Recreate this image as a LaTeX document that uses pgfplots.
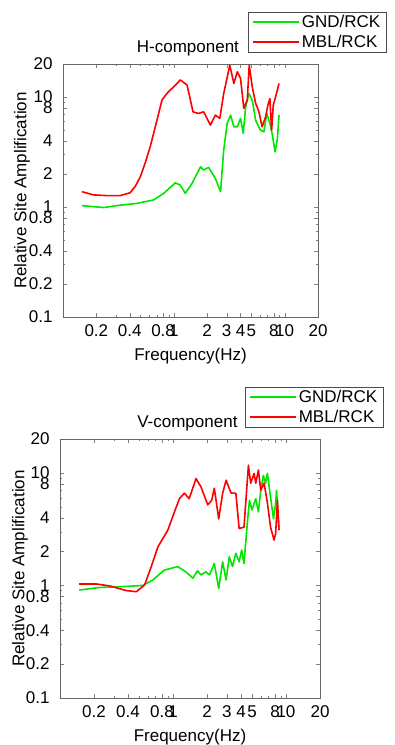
\documentclass[border=0pt]{standalone}
\usepackage{fontspec}
\setmainfont{Liberation Sans}
\usepackage{pgfplots}
\pgfplotsset{compat=1.18}
\definecolor{cg}{RGB}{0,230,0}
\definecolor{cr}{RGB}{255,0,0}
\newcommand\ff{\fontsize{17}{20}\selectfont}
\begin{document}
\begin{tikzpicture}
\useasboundingbox (0pt,0pt) rectangle (395pt,745pt);
% ---------- top panel ----------
\begin{axis}[
  scale only axis,
  xmode=log, ymode=log,
  xmin=0.1, xmax=20, ymin=0.1, ymax=20,
  axis line style={black!60, line width=0.7pt},
  tick pos=both, tick align=inside,
  major tick length=4pt, minor tick length=2pt,
  xtick={0.2,0.4,0.8,1,2,3,4,5,8,10,20},
  xticklabels={0.2,0.4,0.8,1,2,3,4,5,8,10,20},
  minor xtick={0.3,0.5,0.6,0.7,0.9,6,7,9},
  ytick={0.1,0.2,0.4,0.8,1,2,4,8,10,20},
  yticklabels={0.1,0.2,0.4,0.8,1,2,4,8,10,20},
  minor ytick={0.3,0.5,0.6,0.7,0.9,3,5,6,7,9},
  tick label style={font=\ff},
  yticklabel style={xshift=-7pt},
  xticklabel style={yshift=-4pt},
  label style={font=\ff},
  ylabel={Relative Site Amplification},
  xlabel={Frequency(Hz)},
  legend cell align=left,
  legend image code/.code={\draw[#1] (0pt,0pt) -- (46pt,0pt);},
  at={(63pt,428pt)}, anchor=south west,
  width=255pt, height=253pt,
  ylabel style={at={(axis description cs:-0.161,0.5)}, anchor=center},
  xlabel style={at={(axis description cs:0.5,-0.154)}, anchor=center},
  legend style={at={(rel axis cs:0.7255,1.2055)}, anchor=north west,
    draw=black!70, font=\ff, inner xsep=4pt, inner ysep=1pt,
    row sep=2pt, fill=white},
  clip=false]
\addplot[cg, line width=1.6pt, line join=round] coordinates {(0.148,1.03)(0.232,0.99)(0.328,1.04)(0.464,1.08)(0.656,1.16)(0.81,1.33)(1.03,1.66)(1.145,1.58)(1.27,1.33)(1.46,1.64)(1.74,2.32)(1.86,2.17)(2.06,2.3)(2.37,1.82)(2.64,1.38)(2.82,3.3)(3.03,5.77)(3.25,6.86)(3.48,5.37)(3.74,5.37)(4.0,6.4)(4.23,4.68)(4.45,8.16)(4.76,10.8)(5.1,9.4)(5.47,6.17)(6.05,5.0)(6.5,4.84)(6.9,7.1)(7.36,5.77)(7.7,4.68)(8.2,3.18)(8.6,4.2)(8.9,6.86)};
\addlegendentry{GND/RCK}
\addplot[cr, line width=1.6pt, line join=round] coordinates {(0.148,1.38)(0.188,1.29)(0.25,1.27)(0.328,1.27)(0.404,1.35)(0.45,1.55)(0.498,1.88)(0.55,2.5)(0.612,3.53)(0.7,6.0)(0.782,9.4)(0.88,11.0)(0.996,12.4)(1.145,14.3)(1.316,12.9)(1.49,7.35)(1.67,7.1)(1.86,7.35)(2.14,5.56)(2.37,6.86)(2.6,6.4)(2.82,10.8)(3.2,19.5)(3.48,13.3)(3.74,17)(4.0,14.8)(4.28,7.9)(4.6,9.4)(4.79,19.5)(5.1,12.4)(5.47,8.8)(5.86,7.35)(6.26,5.37)(6.73,6.6)(7.06,8.46)(7.36,9.7)(7.63,5.0)(7.9,8.46)(8.3,10.1)(8.9,13.3)};
\addlegendentry{MBL/RCK}
\node[font=\ff, anchor=center] at (rel axis cs:0.49,1.063) {H-component};
\end{axis}
% ---------- bottom panel ----------
\begin{axis}[
  scale only axis,
  xmode=log, ymode=log,
  xmin=0.1, xmax=20, ymin=0.1, ymax=20,
  axis line style={black!60, line width=0.7pt},
  tick pos=both, tick align=inside,
  major tick length=4pt, minor tick length=2pt,
  xtick={0.2,0.4,0.8,1,2,3,4,5,8,10,20},
  xticklabels={0.2,0.4,0.8,1,2,3,4,5,8,10,20},
  minor xtick={0.3,0.5,0.6,0.7,0.9,6,7,9},
  ytick={0.1,0.2,0.4,0.8,1,2,4,8,10,20},
  yticklabels={0.1,0.2,0.4,0.8,1,2,4,8,10,20},
  minor ytick={0.3,0.5,0.6,0.7,0.9,3,5,6,7,9},
  tick label style={font=\ff},
  yticklabel style={xshift=-7pt},
  xticklabel style={yshift=-4pt},
  label style={font=\ff},
  ylabel={Relative Site Amplification},
  xlabel={Frequency(Hz)},
  legend cell align=left,
  legend image code/.code={\draw[#1] (0pt,0pt) -- (46pt,0pt);},
  at={(60pt,47pt)}, anchor=south west,
  width=260pt, height=259pt,
  ylabel style={at={(axis description cs:-0.154,0.5)}, anchor=center},
  xlabel style={at={(axis description cs:0.5,-0.15)}, anchor=center},
  legend style={at={(rel axis cs:0.7115,1.2008)}, anchor=north west,
    draw=black!70, font=\ff, inner xsep=4pt, inner ysep=1pt,
    row sep=2pt, fill=white},
  clip=false]
\addplot[cg, line width=1.6pt, line join=round] coordinates {(0.148,0.91)(0.225,0.96)(0.386,0.98)(0.54,1.0)(0.664,1.12)(0.84,1.37)(1.1,1.47)(1.3,1.32)(1.5,1.16)(1.65,1.35)(1.77,1.24)(1.96,1.32)(2.1,1.24)(2.32,1.57)(2.54,0.94)(2.75,1.62)(2.95,1.12)(3.15,1.8)(3.36,1.47)(3.6,1.93)(3.85,1.62)(4.05,2.06)(4.25,1.57)(4.55,3.6)(4.75,5.7)(5.0,4.68)(5.4,5.9)(5.7,4.5)(5.98,7.0)(6.3,9.5)(6.6,8.1)(6.85,9.9)(7.3,6.1)(7.75,3.9)(8.1,5.4)(8.25,7.0)(8.67,3.1)};
\addlegendentry{GND/RCK}
\addplot[cr, line width=1.6pt, line join=round] coordinates {(0.148,1.03)(0.21,1.03)(0.276,0.99)(0.386,0.90)(0.474,0.88)(0.561,1.01)(0.642,1.47)(0.735,2.2)(0.9,3.1)(1.03,4.5)(1.14,5.9)(1.26,6.6)(1.39,5.9)(1.6,8.9)(1.77,7.5)(2.03,5.2)(2.2,5.7)(2.32,7.3)(2.54,3.9)(2.75,6.6)(2.95,8.6)(3.27,6.6)(3.6,6.6)(3.85,3.2)(4.25,3.3)(4.65,11.7)(4.87,8.1)(5.22,9.9)(5.4,8.1)(5.7,10.6)(5.98,7.0)(6.4,8.1)(6.85,5.4)(7.3,3.3)(7.84,2.53)(8.1,2.9)(8.4,5.7)(8.67,3.1)};
\addlegendentry{MBL/RCK}
\node[font=\ff, anchor=center] at (rel axis cs:0.49,1.062) {V-component};
\end{axis}
\end{tikzpicture}
\end{document}
